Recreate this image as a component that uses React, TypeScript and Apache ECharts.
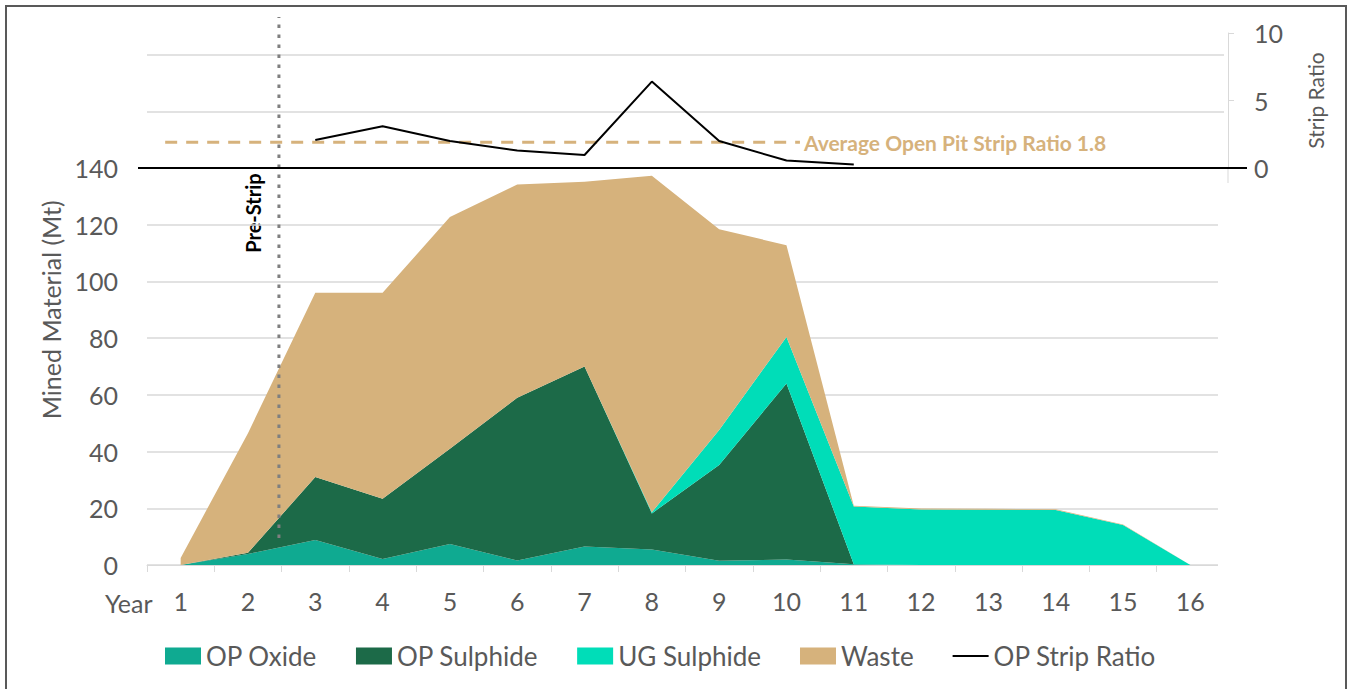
import React, { useEffect, useRef } from "react";
import * as echarts from "echarts";

const years = ["1", "2", "3", "4", "5", "6", "7", "8", "9", "10", "11", "12", "13", "14", "15", "16"];
const opOxide = [0, 3.9, 8.8, 2.1, 7.4, 1.6, 6.5, 5.5, 1.5, 1.9, 0.3, 0, 0, 0, 0, 0];
const opSulphide = [0, 0.4, 22.2, 21.3, 33.6, 57.4, 63.5, 12.7, 33.8, 62.1, 0, 0, 0, 0, 0, 0];
const ugSulphide = [0, 0, 0, 0, 0, 0, 0, 0.4, 12.3, 16.4, 20.3, 19.6, 19.5, 19.4, 14.1, 0];
const waste = [2.5, 42.2, 65, 72.6, 81.7, 75.2, 65.2, 118.7, 70.8, 32.4, 0.3, 0.3, 0.3, 0.3, 0.2, 0];
const stripYears = [3, 4, 5, 6, 7, 8, 9, 10, 11];
const stripRatio = [2.07, 3.1, 2.0, 1.3, 0.96, 6.4, 2.0, 0.55, 0.26];
const avgStripSpan = [0.77, 10.2];
const avgStripValue = 1.9;
const preStripYear = 2.46;

const FONT = "Lato";
const GRAY = "#595959";
const GRID = "#D9D9D9";

export default function App() {
  const ref = useRef<HTMLDivElement>(null);
  useEffect(() => {
    if (!ref.current) return;
    const chart = echarts.init(ref.current, null, { renderer: "svg" });
    const gridLeft = 147;
    const gridRight = 125;
    const option: any = {
      animation: false,
      backgroundColor: "#ffffff",
      textStyle: { fontFamily: FONT },
      grid: [
        { left: gridLeft, right: gridRight, top: 54.6, bottom: 124 },
        { left: gridLeft, right: gridRight, top: 33, bottom: 521 },
        { left: gridLeft, right: gridRight, top: 17, bottom: 151 },
      ],
      xAxis: [
        {
          type: "category",
          gridIndex: 0,
          data: years,
          boundaryGap: true,
          axisLine: { lineStyle: { color: GRID, width: 1 } },
          axisTick: { show: true, interval: 0, length: 7, lineStyle: { color: GRID } },
          axisLabel: { color: GRAY, fontSize: 25, margin: 23, fontFamily: FONT, interval: 0 },
          splitLine: { show: false },
        },
        {
          type: "value",
          gridIndex: 1,
          min: 0.5,
          max: 16.5,
          axisLine: { show: true, onZero: false, lineStyle: { color: "#000000", width: 2 } },
          axisTick: { show: false },
          axisLabel: { show: false },
          splitLine: { show: false },
        },
        {
          type: "value",
          gridIndex: 2,
          min: 0.5,
          max: 16.5,
          show: false,
        },
      ],
      yAxis: [
        {
          type: "value",
          gridIndex: 0,
          min: 0,
          max: 180,
          interval: 20,
          name: "Mined Material (Mt)",
          nameLocation: "middle",
          nameGap: 84,
          nameTextStyle: { color: GRAY, fontSize: 25, fontFamily: FONT },
          axisLine: { show: false },
          axisTick: { show: false },
          axisLabel: {
            color: GRAY,
            fontSize: 25,
            margin: 29,
            fontFamily: FONT,
            formatter: (v: number) => (v <= 140 ? String(v) : ""),
          },
          splitLine: { lineStyle: { color: GRID, width: 1.5 } },
        },
        {
          type: "value",
          gridIndex: 1,
          position: "right",
          offset: 4,
          min: 0,
          max: 10,
          interval: 5,
          name: "Strip Ratio",
          nameLocation: "middle",
          nameGap: 77,
          nameRotate: 90,
          nameTextStyle: { color: GRAY, fontSize: 21, fontFamily: FONT },
          axisLine: { show: true, lineStyle: { color: GRID, width: 1 } },
          axisTick: { show: true, length: 6, lineStyle: { color: GRID } },
          axisLabel: { color: GRAY, fontSize: 25, margin: 26, fontFamily: FONT },
          splitLine: { show: false },
        },
        {
          type: "value",
          gridIndex: 2,
          min: 0,
          max: 1,
          show: false,
        },
      ],
      legend: {
        top: 638,
        left: 160,
        itemWidth: 36,
        itemHeight: 17,
        itemGap: 39,
        textStyle: { color: GRAY, fontSize: 26, fontFamily: FONT },
        data: [
          { name: "OP Oxide", icon: "rect" },
          { name: "OP Sulphide", icon: "rect" },
          { name: "UG Sulphide", icon: "rect" },
          { name: "Waste", icon: "rect" },
          { name: "OP Strip Ratio", icon: "path://M0,0H36V2H0Z", itemStyle: { color: "#000000" } },
        ],
      },
      series: [
        {
          name: "OP Oxide",
          type: "line",
          xAxisIndex: 0,
          yAxisIndex: 0,
          stack: "mined",
          data: opOxide,
          symbol: "none",
          color: "#0FAA91",
          lineStyle: { width: 0 },
          areaStyle: { color: "#0FAA91", opacity: 1 },
        },
        {
          name: "OP Sulphide",
          type: "line",
          xAxisIndex: 0,
          yAxisIndex: 0,
          stack: "mined",
          data: opSulphide,
          symbol: "none",
          color: "#1C6A48",
          lineStyle: { width: 0 },
          areaStyle: { color: "#1C6A48", opacity: 1 },
        },
        {
          name: "UG Sulphide",
          type: "line",
          xAxisIndex: 0,
          yAxisIndex: 0,
          stack: "mined",
          data: ugSulphide,
          symbol: "none",
          color: "#00DDB8",
          lineStyle: { width: 0 },
          areaStyle: { color: "#00DDB8", opacity: 1 },
        },
        {
          name: "Waste",
          type: "line",
          xAxisIndex: 0,
          yAxisIndex: 0,
          stack: "mined",
          data: waste,
          symbol: "none",
          color: "#D6B27C",
          lineStyle: { width: 0 },
          areaStyle: { color: "#D6B27C", opacity: 1 },
        },
        {
          name: "Average Open Pit Strip Ratio",
          type: "line",
          xAxisIndex: 1,
          yAxisIndex: 1,
          data: avgStripSpan.map((x) => [x, avgStripValue]),
          symbol: "none",
          color: "#D6B27C",
          lineStyle: { color: "#D6B27C", width: 3, type: [12, 9] },
          endLabel: {
            show: true,
            formatter: "Average Open Pit Strip Ratio 1.8",
            color: "#D6B27C",
            fontWeight: "bold",
            fontSize: 21,
            fontFamily: FONT,
            distance: 4,
          },
          z: 3,
        },
        {
          name: "OP Strip Ratio",
          type: "line",
          xAxisIndex: 1,
          yAxisIndex: 1,
          data: stripYears.map((y, i) => [y, stripRatio[i]]),
          symbol: "none",
          color: "#000000",
          lineStyle: { color: "#000000", width: 2 },
          z: 4,
        },
        {
          name: "Pre-Strip",
          type: "line",
          xAxisIndex: 2,
          yAxisIndex: 2,
          data: [
            [preStripYear, 0],
            [preStripYear, 1],
          ],
          symbol: "none",
          color: "#7F7F7F",
          lineStyle: { color: "#7F7F7F", width: 3, type: [3.5, 6.5] },
          z: 5,
        },
      ],
      graphic: [
        {
          type: "rect",
          shape: { x: 1218, y: 183, width: 80, height: 500 },
          style: { fill: "#ffffff" },
          silent: true,
          z: 1,
        },
        {
          type: "line",
          shape: { x1: 1228, y1: 168, x2: 1228, y2: 183 },
          style: { stroke: GRID, lineWidth: 1 },
          silent: true,
          z: 2,
        },
        {
          type: "rect",
          shape: { x: 6, y: 6, width: 1340, height: 700 },
          style: { fill: "none", stroke: "#595959", lineWidth: 2 },
          silent: true,
        },
        {
          type: "line",
          shape: { x1: 138, y1: 168, x2: 1247, y2: 168 },
          style: { stroke: "#000000", lineWidth: 2 },
          z: 10,
        },
        {
          type: "text",
          x: 105,
          y: 603,
          style: {
            text: "Year",
            fill: GRAY,
            fontSize: 25,
            fontFamily: FONT,
            align: "left",
            verticalAlign: "middle",
          },
        },
        {
          type: "text",
          x: 253,
          y: 213,
          rotation: Math.PI / 2,
          style: {
            text: "Pre-Strip",
            fill: "#000000",
            fontSize: 20,
            fontWeight: "bold",
            fontFamily: FONT,
            align: "center",
            verticalAlign: "middle",
          },
        },
      ],
    };
    chart.setOption(option);
    return () => chart.dispose();
  }, []);
  return (
    <div
      ref={ref}
      style={{ position: "absolute", left: 0, top: 0, width: 1349, height: 689 }}
    />
  );
}
